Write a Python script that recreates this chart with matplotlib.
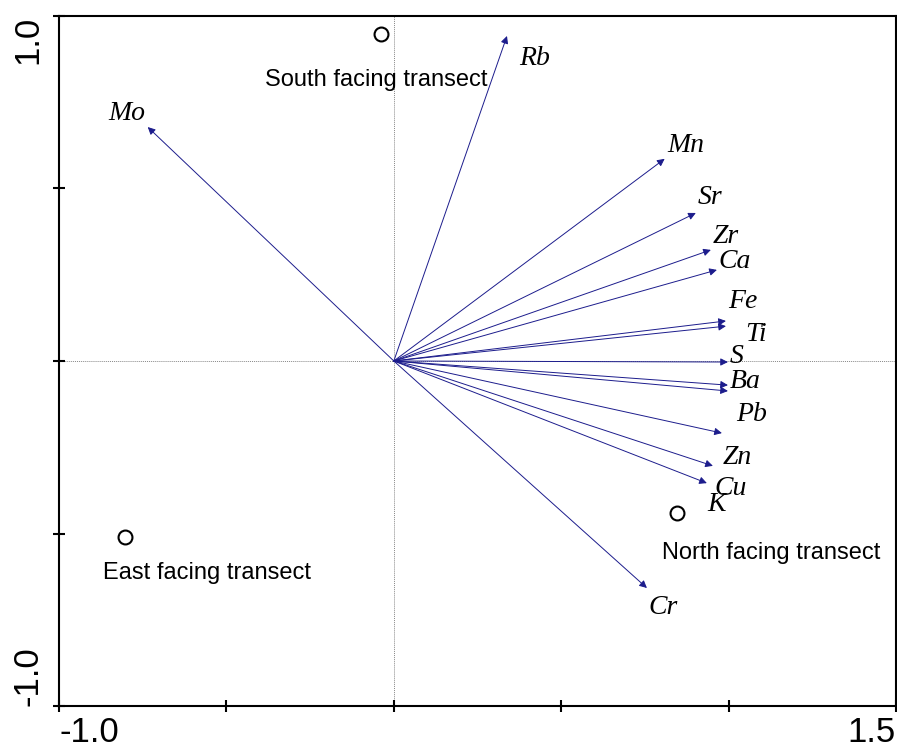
import matplotlib
matplotlib.use("Agg")
import matplotlib.pyplot as plt

# variable arrows (RDA biplot)
elements = ["Mo", "Rb", "Mn", "Sr", "Zr", "Ca", "Fe", "Ti", "S", "Ba", "Pb", "Zn", "Cu", "K", "Cr"]
arrow_x = [-0.735, 0.338, 0.809, 0.902, 0.947, 0.965, 0.992, 0.992, 0.998, 0.998, 0.998, 0.980, 0.953, 0.935, 0.756]
arrow_y = [0.678, 0.942, 0.586, 0.429, 0.322, 0.264, 0.116, 0.101, -0.003, -0.070, -0.087, -0.209, -0.304, -0.354, -0.658]
label_x = [-0.797, 0.421, 0.872, 0.944, 0.992, 1.019, 1.042, 1.081, 1.024, 1.048, 1.069, 1.027, 1.007, 0.965, 0.803]
label_y = [0.725, 0.885, 0.633, 0.482, 0.369, 0.296, 0.181, 0.085, 0.021, -0.051, -0.147, -0.272, -0.362, -0.408, -0.706]

# sample points (transects)
sites = ["South facing transect", "East facing transect", "North facing transect"]
site_x = [-0.039, -0.803, 0.845]
site_y = [0.948, -0.510, -0.441]
site_label_x = [-0.385, -0.869, 0.800]
site_label_y = [0.814, -0.614, -0.557]

fig = plt.figure(figsize=(8.97, 7.53), dpi=100)
ax = fig.add_axes([0.0658, 0.0624, 0.9331, 0.9164])
ax.set_xlim(-1.0, 1.5)
ax.set_ylim(-1.0, 1.0)

ax.axhline(0, color="#888888", lw=0.7, ls=(0, (1, 1)), zorder=1)
ax.axvline(0, color="#888888", lw=0.7, ls=(0, (1, 1)), zorder=1)

for name, x, y, lx, ly in zip(elements, arrow_x, arrow_y, label_x, label_y):
    ax.annotate("", xy=(x, y), xytext=(0, 0),
                arrowprops=dict(arrowstyle="-|>", color="#1c1c8c", lw=0.7,
                                mutation_scale=11, shrinkA=0, shrinkB=0))
    ax.text(lx, ly, name, ha="center", va="center_baseline", fontsize=20,
            family="Liberation Serif", style="italic")

ax.plot(site_x, site_y, "o", ms=10, mfc="none", mec="black", mew=1.5, zorder=3)
for name, lx, ly in zip(sites, site_label_x, site_label_y):
    ax.text(lx, ly, name, ha="left", va="center", fontsize=17, family="Liberation Sans")

for s in ax.spines.values():
    s.set_linewidth(1.5)

ax.set_xticks([-1.0, -0.5, 0.0, 0.5, 1.0, 1.5])
ax.set_xticklabels(["-1.0", "", "", "", "", "1.5"])
ax.set_yticks([-1.0, -0.5, 0.0, 0.5, 1.0])
ax.set_yticklabels(["-1.0", "", "", "", "1.0"], rotation=90)
ax.tick_params(direction="inout", length=9, width=1.5, labelsize=25)
ax.tick_params(axis="x", pad=3)
ax.tick_params(axis="y", pad=6)
for t in ax.get_xticklabels():
    t.set_family("Liberation Sans")
for t in ax.get_yticklabels():
    t.set_family("Liberation Sans")
xl = ax.get_xticklabels()
xl[0].set_ha("left")
xl[-1].set_ha("right")
yl = ax.get_yticklabels()
yl[0].set_va("bottom")
yl[-1].set_va("top")

fig.savefig("out.png", dpi=100)
